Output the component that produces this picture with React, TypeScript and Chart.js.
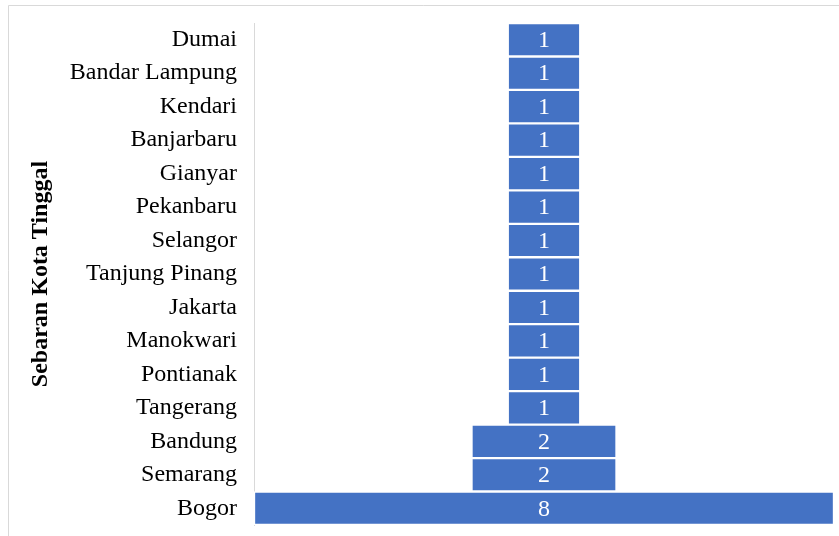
import React, { useEffect, useRef } from "react";
import { Chart, registerables } from "chart.js";

Chart.register(...registerables);

const cities = [
  "Dumai",
  "Bandar Lampung",
  "Kendari",
  "Banjarbaru",
  "Gianyar",
  "Pekanbaru",
  "Selangor",
  "Tanjung Pinang",
  "Jakarta",
  "Manokwari",
  "Pontianak",
  "Tangerang",
  "Bandung",
  "Semarang",
  "Bogor",
];
const counts = [1, 1, 1, 1, 1, 1, 1, 1, 1, 1, 1, 1, 2, 2, 8];
const axisTitle = "Sebaran Kota Tinggal";

const FONT = "'Liberation Serif', 'Times New Roman', serif";

const frame = {
  id: "frame",
  beforeDraw(chart: any) {
    const { ctx } = chart;
    ctx.save();
    ctx.fillStyle = "#ffffff";
    ctx.fillRect(0, 0, chart.width, chart.height);
    ctx.strokeStyle = "#d9d9d9";
    ctx.lineWidth = 1;
    ctx.beginPath();
    ctx.moveTo(8.5, chart.height);
    ctx.lineTo(8.5, 5.5);
    ctx.lineTo(chart.width, 5.5);
    ctx.stroke();
    ctx.restore();
  },
};

const valueLabels = {
  id: "valueLabels",
  afterDatasetsDraw(chart: any) {
    const { ctx } = chart;
    const meta = chart.getDatasetMeta(0);
    ctx.save();
    ctx.fillStyle = "#ffffff";
    ctx.font = `24px ${FONT}`;
    ctx.textAlign = "center";
    ctx.textBaseline = "middle";
    meta.data.forEach((bar: any, i: number) => {
      const p = bar.getProps(["x", "y", "base"], true);
      ctx.fillText(String(counts[i]), (p.x + p.base) / 2, p.y + 1);
    });
    ctx.restore();
  },
};

export default function App() {
  const ref = useRef<HTMLCanvasElement>(null);
  useEffect(() => {
    if (!ref.current) return;
    const chart = new Chart(ref.current, {
      type: "bar",
      data: {
        labels: cities,
        datasets: [
          {
            data: counts.map((v) => [-v / 2, v / 2]) as any,
            backgroundColor: "#4472c4",
            borderColor: "#ffffff",
            borderWidth: 1.5,
            borderSkipped: false,
            categoryPercentage: 1,
            barPercentage: 1,
          },
        ],
      },
      options: {
        indexAxis: "y",
        animation: false,
        responsive: false,
        maintainAspectRatio: false,
        layout: { autoPadding: false, padding: { top: 23, bottom: 11, left: 0, right: 5 } },
        plugins: {
          legend: { display: false },
          tooltip: { enabled: false },
        },
        scales: {
          x: { display: false, min: -4, max: 4 },
          y: {
            afterFit(scale: any) {
              scale.width = 254;
              scale.paddingTop = 0;
              scale.paddingBottom = 0;
            },
            grid: { display: false, drawTicks: false },
            border: { display: true, color: "#d9d9d9", width: 1 },
            ticks: {
              color: "#000000",
              padding: 17,
              autoSkip: false,
              font: { family: FONT, size: 24 },
            },
            title: {
              display: true,
              text: axisTitle,
              color: "#000000",
              padding: { top: 26, bottom: 0 },
              font: { family: FONT, size: 24, weight: "bold" },
            },
          },
        },
      },
      plugins: [frame, valueLabels],
    });
    return () => chart.destroy();
  }, []);
  return (
    <div style={{ position: "fixed", left: 0, top: 0, width: 839, height: 536, background: "#fff" }}>
      <canvas ref={ref} width={839} height={536} style={{ display: "block", width: 839, height: 536 }} />
    </div>
  );
}
